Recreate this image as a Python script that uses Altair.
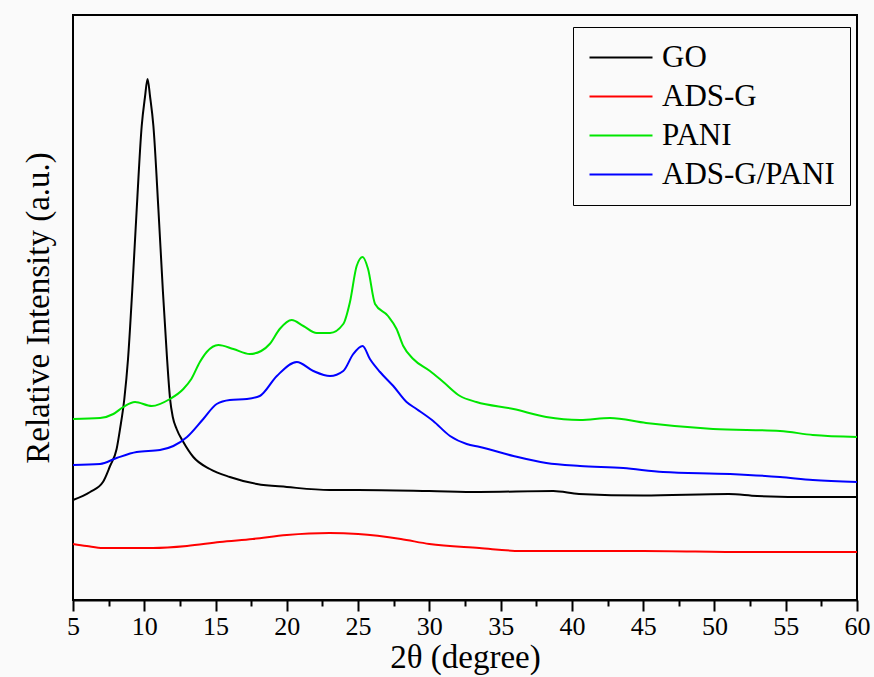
import altair as alt
import pandas as pd

series_names = ["GO", "ADS-G", "PANI", "ADS-G/PANI"]
series_colors = ["#000000", "#ff0000", "#00e600", "#0000ff"]

go_x = [5, 6.2, 7.1, 7.6, 8.06, 8.3, 8.6, 8.86, 9.15, 9.47, 9.82, 10.05, 10.23, 10.41, 10.64, 10.99,
        11.31, 11.6, 11.81, 12.0, 12.27, 12.74, 13.44, 14.6, 16.0, 17.9, 20.0, 23.0, 25, 30, 33.5, 38.7,
        40.5, 45, 51, 53, 57, 60]
go_y = [100, 108, 118, 134, 151, 171, 201, 241, 308, 391, 474, 503, 521, 503, 474, 391,
        308, 241, 201, 183, 171, 158, 143, 131, 123, 116, 113, 110, 110, 109, 108, 109,
        106, 104.5, 106, 104, 103, 103]

ads_x = [5, 5.96, 7.1, 10.6, 13, 15.3, 17.6, 20, 23, 25, 28, 30, 33.5, 36.4, 45, 52.3, 60]
ads_y = [56, 54, 52, 52, 54, 58, 61, 65, 67, 66, 61, 56, 52, 49, 49, 48, 48]

pani_x = [5, 6.9, 7.83, 8.53, 9.35, 10.52, 11.8, 12.74, 13.3, 13.9, 14.38, 15.2, 16.25, 17.4,
          18.2, 18.8, 19.5, 20.34, 21.16, 22.1, 23.03, 23.96, 24.43, 24.9, 25.32, 25.7, 26.19,
          27.1, 27.7, 28.17, 28.87, 30.04, 30.98, 32.15, 33.3, 35.9, 38.2, 40.57, 42.67, 45.2,
          49.9, 54.6, 56.9, 60]
pani_y = [181, 182, 186, 193, 198, 194, 201, 211, 221, 238, 248, 255, 251, 246,
          249, 256, 271, 280, 274, 267, 267, 276, 298, 334, 343, 331, 296,
          284, 271, 254, 241, 229, 218, 204, 198, 191, 183, 180, 182, 177,
          171, 169, 165, 163]

comp_x = [5, 6.9, 8.06, 9.47, 11.1, 12.04, 13, 14.14, 15.08, 16.0, 17.2, 18.1, 19.3, 20.7,
          21.86, 23.03, 23.96, 24.66, 25.32, 25.83, 26.54, 27.47, 28.4, 29.1, 30.27, 31.45,
          32.62, 33.55, 35.9, 38.2, 40.57, 43.6, 46.4, 51.1, 54.6, 56.9, 60]
comp_y = [135, 136, 142, 148, 150, 154, 163, 181, 196, 200, 201, 204, 224, 238,
          229, 224, 229, 246, 254, 241, 228, 214, 198, 191, 179, 164,
          156, 153, 144, 137, 134, 132, 128, 126, 123, 120, 118]

x_ticks = [v / 2 for v in range(10, 121, 5)]

frames = []
for name, xs, ys in [("GO", go_x, go_y), ("ADS-G", ads_x, ads_y),
                     ("PANI", pani_x, pani_y), ("ADS-G/PANI", comp_x, comp_y)]:
    frames.append(pd.DataFrame({"x": xs, "y": ys, "series": name, "order": range(len(xs))}))
df = pd.concat(frames, ignore_index=True)

FONT = "Liberation Serif"

chart = alt.Chart(df).mark_line(strokeWidth=2, interpolate="monotone").encode(
    x=alt.X("x:Q", scale=alt.Scale(domain=[5, 60], nice=False, zero=False),
            axis=alt.Axis(values=x_ticks, title="2θ (degree)",
                          labelExpr="datum.value % 5 === 0 ? datum.label : ''",
                          tickSize={"condition": {"test": "datum.value % 5 !== 0", "value": 6}, "value": 11},
                          grid=False, domainColor="black", domainWidth=2, tickColor="black",
                          tickWidth=2, labelFont=FONT, labelFontSize=26, labelColor="black",
                          labelPadding=2, titleFont=FONT, titleFontSize=33, titleFontWeight="normal",
                          titleColor="black", titlePadding=2, labelFlush=False)),
    y=alt.Y("y:Q", scale=alt.Scale(domain=[0, 585], nice=False),
            axis=alt.Axis(title="Relative Intensity (a.u.)", labels=False, ticks=False,
                          domain=False, grid=False, titleFont=FONT, titleFontSize=33,
                          titleFontWeight="normal", titleColor="black", titlePadding=18)),
    color=alt.Color("series:N", scale=alt.Scale(domain=series_names, range=series_colors),
                    sort=series_names,
                    legend=alt.Legend(title=None, orient="none", legendX=500, legendY=12,
                                      symbolType="M-2,0H7", symbolSize=196, symbolStrokeWidth=2,
                                      labelFont=FONT, labelFontSize=31, labelColor="black",
                                      labelOffset=43, rowPadding=7, padding=15,
                                      strokeColor="black", fillColor="#fafafa",
                                      labelLimit=400)),
    order="order:Q",
    detail="series:N",
).properties(
    width=784, height=585,
    autosize=alt.AutoSizeParams(type="none"),
    padding={"left": 73, "top": 15, "right": 17, "bottom": 77},
    background="#fafafa",
).configure_view(stroke="black", strokeWidth=2)

chart.save("out.html", embed_options={"renderer": "svg", "actions": False})
